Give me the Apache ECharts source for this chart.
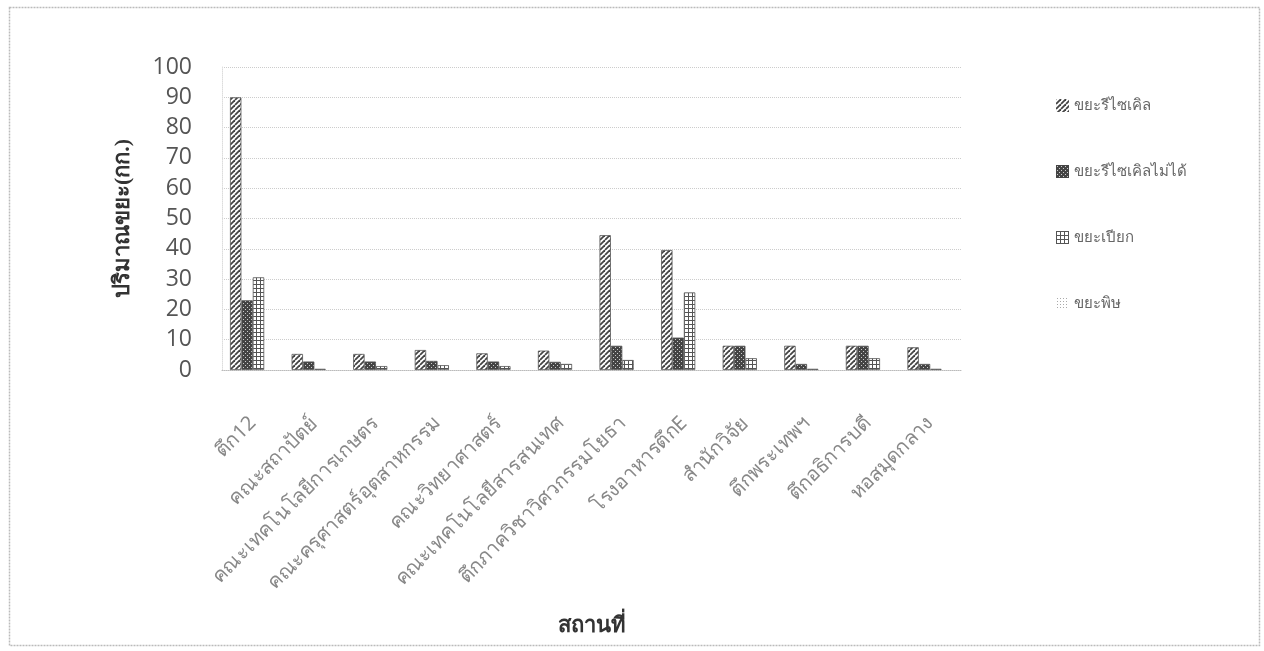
<!DOCTYPE html>
<html>
<head>
<meta charset="utf-8">
<script src="https://cdn.jsdelivr.net/npm/echarts@6/dist/echarts.min.js"></script>
<style>
html,body{margin:0;padding:0;background:#fff;}
#c{width:1264px;height:651px;}
</style>
</head>
<body>
<div id="c"></div>
<script>
const categories = ["ตึก12","คณะสถาปัตย์","คณะเทคโนโลยีการเกษตร","คณะครุศาสตร์อุตสาหกรรม","คณะวิทยาศาสตร์","คณะเทคโนโลยีสารสนเทศ","ตึกภาควิชาวิศวกรรมโยธา","โรงอาหารตึกE","สำนักวิจัย","ตึกพระเทพฯ","ตึกอธิการบดี","หอสมุดกลาง"];
const seriesNames = ["ขยะรีไซเคิล","ขยะรีไซเคิลไม่ได้","ขยะเปียก","ขยะพิษ"];
const recyclable = [90, 5.3, 5.3, 6.6, 5.5, 6.4, 44.5, 39.6, 8, 8, 8, 7.5];
const nonRecyclable = [23, 2.8, 2.8, 3, 2.8, 2.7, 8, 10.7, 8, 2, 8, 2];
const wet = [30.6, 0.4, 1.3, 1.6, 1.3, 2, 3.3, 25.6, 3.9, 0.4, 3.9, 0.4];
const toxic = [0, 0, 0, 0, 0, 0, 0, 0, 0, 0, 0, 0];
const yTicks = [0,10,20,30,40,50,60,70,80,90,100];

function mk(size, draw){
  const c=document.createElement('canvas'); c.width=size; c.height=size;
  const g=c.getContext('2d'); g.fillStyle='#fff'; g.fillRect(0,0,size,size); draw(g,size);
  return {image:c, repeat:'repeat'};
}
const pHatch = mk(5,(g,s)=>{g.strokeStyle='#444';g.lineWidth=1.8;
  for(let o=-s;o<=s*2;o+=s){g.beginPath();g.moveTo(o,s);g.lineTo(o+s,0);g.stroke();}});
const pCheck = mk(4,(g,s)=>{g.fillStyle='#444';g.fillRect(0,0,4,4);g.fillStyle='#ccc';g.fillRect(1,1,1,1);g.fillRect(3,3,1,1);});
const pGrid = mk(4,(g,s)=>{g.fillStyle='#555';g.fillRect(0,0,4,1);g.fillRect(0,0,1,4);});
const pToxic = mk(6,(g,s)=>{g.fillStyle='#aaa';g.fillRect(1,1,1,1);g.fillRect(4,4,1,1);g.fillRect(4,1,1,1);g.fillRect(1,4,1,1);});
const patterns=[pHatch,pCheck,pGrid,pToxic];
const datas=[recyclable,nonRecyclable,wet,toxic];

const chart = echarts.init(document.getElementById('c'), null, {renderer:'canvas'});
chart.setOption({
  backgroundColor:'#fff',
  animation:false,
  graphic:[{type:'rect',left:7,top:5,shape:{width:1250,height:638},style:{fill:'none',stroke:'#bbb',lineWidth:1.5,lineDash:[2,1]},silent:true}],
  grid:{left:222,right:303,top:67,bottom:281,containLabel:false},
  legend:{orient:'vertical',left:1051,top:93,itemGap:51,itemWidth:13,itemHeight:13,icon:'rect',itemStyle:{borderWidth:0},
    textStyle:{fontSize:15,color:'#666',fontFamily:'"Noto Sans", sans-serif'},data:seriesNames},
  xAxis:{type:'category',data:categories,
    name:'สถานที่',nameLocation:'middle',nameGap:245,
    nameTextStyle:{fontSize:22,fontWeight:'bold',color:'#333',fontFamily:'serif'},
    axisLine:{lineStyle:{color:'#bbb',type:'dotted'}},axisTick:{show:false},
    axisLabel:{rotate:45,interval:0,fontSize:20,color:'#888',margin:50,fontFamily:'"Noto Sans", sans-serif'}},
  yAxis:{type:'value',min:0,max:100,interval:10,
    name:'ปริมาณขยะ(กก.)',nameLocation:'middle',nameGap:88,nameRotate:90,
    nameTextStyle:{fontSize:22,fontWeight:'bold',color:'#333',fontFamily:'serif'},
    axisLine:{show:true,lineStyle:{color:'#ddd',type:'dotted'}},axisTick:{show:false},
    axisLabel:{fontSize:23,color:'#555',margin:30,fontFamily:'"Open Sans", sans-serif',
      formatter:v=>yTicks.includes(v)?String(v):''},
    splitLine:{lineStyle:{color:'#ccc',type:'dotted',width:1}}},
  series:seriesNames.map((n,i)=>({name:n,type:'bar',data:datas[i],barGap:'0%',barCategoryGap:'26%',
    itemStyle:{color:patterns[i],borderColor:'#555',borderWidth:i===3?0:0.8}}))
});
</script>
</body>
</html>
